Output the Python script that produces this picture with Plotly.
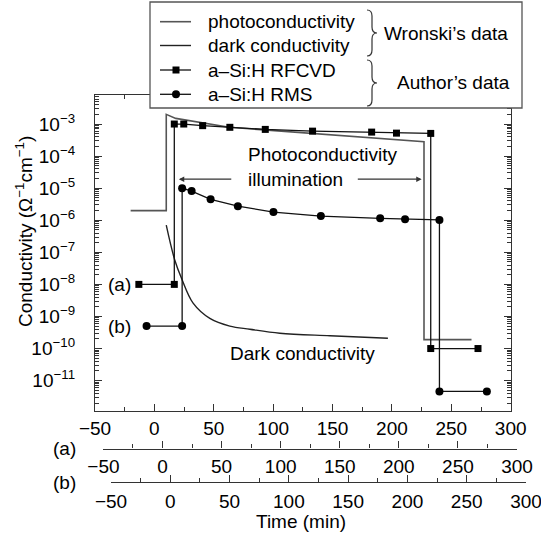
import plotly.graph_objects as go

# ---- data -------------------------------------------------------------
# Wronski's data (time on the main axis, min)
wronski_photo_t = [-20, 10, 10, 18, 63, 94, 227, 227, 267]
wronski_photo = [2e-6, 2e-6, 2e-3, 1.5e-3, 7.9e-4, 6.5e-4, 2.8e-4, 1.9e-10, 1.9e-10]
wronski_dark_t = [10, 17, 23, 32.6, 46.7, 63.5, 80.4, 105.6, 147.8, 196.6]
wronski_dark = [7e-7, 6e-8, 1.5e-8, 2.6e-9, 8.7e-10, 5e-10, 4e-10, 3e-10, 2.5e-10, 2.1e-10]

# Author's data (time on axes (a) and (b), min)
time_a = [-20, 10, 10, 18, 34, 57, 87, 127, 177, 198, 227, 227, 267]
rfcvd = [1e-8, 1e-8, 1.0e-3, 1.0e-3, 8.9e-4, 7.9e-4, 6.8e-4, 6.0e-4, 5.6e-4, 5.2e-4,
         5.1e-4, 1e-10, 1e-10]
time_b = [-20, 10, 10, 18, 34, 57, 87, 127, 177, 198, 227, 227, 267]
rms = [5e-10, 5e-10, 1.0e-5, 8.1e-6, 4.5e-6, 2.75e-6, 1.8e-6, 1.35e-6, 1.15e-6, 1.07e-6,
       1.02e-6, 4.6e-12, 4.6e-12]

series_names = ["photoconductivity", "dark conductivity", "a\u2013Si:H RFCVD", "a\u2013Si:H RMS"]
group_names = ["Wronski\u2019s data", "Author\u2019s data"]
y_exponents = list(range(-11, -2))
x_ticks = [-50, 0, 50, 100, 150, 200, 250, 300]

# ---- page geometry (pixels) ---------------------------------------------
W, H = 541, 537
ML, MR, MT, MB = 95, 14, 95, 55
PW, PH = W - ML - MR, H - MT - MB


def fx(p):
    return (p - ML) / PW


def fy(p):
    return (H - MB - p) / PH


FONT = "Liberation Sans, Arial, Helvetica, sans-serif"
AX = "#333333"
styles = [
    dict(line=dict(color="#555555", width=1.6)),
    dict(line=dict(color="#222222", width=1.4)),
    dict(line=dict(color="#111111", width=1.3), marker="square"),
    dict(line=dict(color="#111111", width=1.3), marker="circle"),
]

fig = go.Figure()

fig.add_trace(go.Scatter(
    x=wronski_photo_t, y=wronski_photo, mode="lines", name=series_names[0],
    line=styles[0]["line"], xaxis="x", yaxis="y"))
fig.add_trace(go.Scatter(
    x=wronski_dark_t, y=wronski_dark, mode="lines", name=series_names[1],
    line=dict(styles[1]["line"], shape="spline", smoothing=1.0),
    xaxis="x", yaxis="y"))
fig.add_trace(go.Scatter(
    x=time_a, y=rfcvd, mode="lines+markers", name=series_names[2],
    line=styles[2]["line"], marker=dict(symbol="square", size=7, color="#000000"),
    xaxis="x2", yaxis="y", cliponaxis=False))
fig.add_trace(go.Scatter(
    x=time_b, y=rms, mode="lines+markers", name=series_names[3],
    line=styles[3]["line"], marker=dict(symbol="circle", size=8, color="#000000"),
    xaxis="x3", yaxis="y", cliponaxis=False))

tickfont = dict(family=FONT, size=19, color="#000000")


def time_axis(domain, **extra):
    ax = dict(
        type="linear", range=[-50, 300], domain=domain,
        tickmode="array", tickvals=x_ticks,
        ticktext=[("\u2212%d" % -v) if v < 0 else str(v) for v in x_ticks],
        ticks="inside", ticklen=7, tickwidth=1.3, tickcolor=AX,
        minor=dict(dtick=25, tick0=0, ticks="inside", ticklen=4, tickwidth=1.2, tickcolor=AX),
        showline=True, linecolor=AX, linewidth=1.3, ticklabeloverflow="allow",
        showgrid=False, zeroline=False, tickfont=tickfont,
    )
    ax.update(extra)
    return ax


minor_y = [m * 10.0 ** e for e in range(-12, -1) for m in range(2, 10)]

fig.update_layout(
    width=W, height=H,
    margin=dict(l=ML, r=MR, t=MT, b=MB, autoexpand=False),
    paper_bgcolor="white", plot_bgcolor="rgba(0,0,0,0)",
    font=dict(family=FONT, size=19, color="#000000"),
    showlegend=False,
    xaxis=time_axis([0, fx(510.7)], anchor="y", mirror="ticks", ticklabelstandoff=0),
    xaxis2=time_axis([fx(103.4), fx(517)], anchor="free", position=fy(448.6), ticklabelstandoff=0),
    xaxis3=time_axis([fx(111), fx(526)], anchor="free", position=0, ticklabelstandoff=2),
    yaxis=dict(
        type="log", range=[-11.96, -2.095], domain=[fy(411.4), 1], anchor="x",
        tickmode="array", tickvals=[10.0 ** e for e in y_exponents],
        ticktext=["10<sup>\u2212%d</sup>" % -e for e in y_exponents],
        ticks="inside", ticklen=7, tickwidth=1.3, tickcolor=AX,
        minor=dict(tickmode="array", tickvals=minor_y, ticks="inside", ticklen=3.5,
                   tickwidth=1, tickcolor=AX),
        showline=True, linecolor=AX, linewidth=1.3, mirror="ticks",
        showgrid=False, zeroline=False, tickfont=tickfont, ticklabelstandoff=15,
    ),
)

# ---- legend box: frame, samples, braces and group labels ----------------
shapes = [dict(type="rect", xref="paper", yref="paper", x0=fx(150), x1=fx(522),
               y0=fy(108), y1=fy(2), line=dict(color="#555555", width=1.3),
               fillcolor="white", layer="above")]

row_y = [21.7, 45.5, 70, 94.3]
sample_x0, sample_x1, marker_x, text_x = 160, 191, 176, 206
for ry, st in zip(row_y, styles):
    shapes.append(dict(type="line", xref="paper", yref="paper",
                       x0=fx(sample_x0), x1=fx(sample_x1), y0=fy(ry), y1=fy(ry),
                       line=st["line"], layer="above"))
    if st.get("marker") == "square":
        shapes.append(dict(type="rect", xref="paper", yref="paper",
                           x0=fx(marker_x - 3.5), x1=fx(marker_x + 3.5),
                           y0=fy(ry + 3.5), y1=fy(ry - 3.5),
                           fillcolor="#000000", line=dict(width=0), layer="above"))
    elif st.get("marker") == "circle":
        shapes.append(dict(type="circle", xref="paper", yref="paper",
                           x0=fx(marker_x - 4), x1=fx(marker_x + 4),
                           y0=fy(ry + 4), y1=fy(ry - 4),
                           fillcolor="#000000", line=dict(width=0), layer="above"))


def brace(xl, yt, yb, w):
    ym = (yt + yb) / 2
    xm = xl + w * 0.5
    xt = xl + w
    r = w * 0.6
    pts = [("M", [(xl, yt)]), ("Q", [(xm, yt), (xm, yt + r)]), ("L", [(xm, ym - r)]),
           ("Q", [(xm, ym), (xt, ym)]), ("Q", [(xm, ym), (xm, ym + r)]), ("L", [(xm, yb - r)]),
           ("Q", [(xm, yb), (xl, yb)])]
    s = ""
    for cmd, ps in pts:
        s += cmd + " " + " ".join("%.5f,%.5f" % (fx(a), fy(b)) for a, b in ps) + " "
    return dict(type="path", xref="paper", yref="paper", path=s.strip(),
                line=dict(color="#333333", width=1.2), layer="above")


shapes.append(brace(367, 10, 56, 10))
shapes.append(brace(367, 60, 106, 10))
fig.update_layout(shapes=shapes)

txt = dict(family=FONT, size=19, color="#000000")
ann = []
for ry, name in zip(row_y, series_names):
    ann.append(dict(text=name, x=fx(text_x), y=fy(ry), xref="paper", yref="paper",
                    xanchor="left", yanchor="middle", showarrow=False, font=txt))
ann += [
    dict(text=group_names[0], x=fx(382), y=fy(33), xref="paper", yref="paper",
         xanchor="left", yanchor="middle", showarrow=False, font=txt),
    dict(text=group_names[1], x=fx(395), y=fy(82), xref="paper", yref="paper",
         xanchor="left", yanchor="middle", showarrow=False, font=txt),
    dict(text="Conductivity (\u03a9<sup>\u22121</sup>cm<sup>\u22121</sup>)",
         x=fx(24), y=fy(232), xref="paper", yref="paper", textangle=-90,
         xanchor="center", yanchor="middle", showarrow=False, font=txt),
    dict(text="Photoconductivity<br>illumination", x=77, y=-4.33, xref="x", yref="y",
         xanchor="left", yanchor="middle", align="left", showarrow=False, font=txt),
    dict(text="Dark conductivity", x=62, y=-10.17, xref="x", yref="y",
         xanchor="left", yanchor="middle", showarrow=False, font=txt),
    dict(text="(a)", x=-18.2, y=-8, xref="x", yref="y", xanchor="right", yanchor="middle",
         showarrow=False, font=txt),
    dict(text="(b)", x=-18.2, y=-9.32, xref="x", yref="y", xanchor="right", yanchor="middle",
         showarrow=False, font=txt),
    dict(text="(a)", x=fx(78), y=fy(448), xref="paper", yref="paper", xanchor="right",
         yanchor="middle", showarrow=False, font=txt),
    dict(text="(b)", x=fx(78), y=fy(482), xref="paper", yref="paper", xanchor="right",
         yanchor="middle", showarrow=False, font=txt),
    dict(text="Time (min)", x=fx(301), y=fy(521), xref="paper", yref="paper",
         xanchor="center", yanchor="middle", showarrow=False, font=txt),
    # illumination interval arrows
    dict(text="", x=20.6, y=-4.72, ax=66, ay=-4.72, xref="x", yref="y", axref="x", ayref="y",
         showarrow=True, arrowhead=2, arrowsize=0.9, arrowwidth=1.2, arrowcolor="#333333"),
    dict(text="", x=225, y=-4.72, ax=170, ay=-4.72, xref="x", yref="y", axref="x", ayref="y",
         showarrow=True, arrowhead=2, arrowsize=0.9, arrowwidth=1.2, arrowcolor="#333333"),
]
fig.update_layout(annotations=ann)

fig.write_html("out.html")
